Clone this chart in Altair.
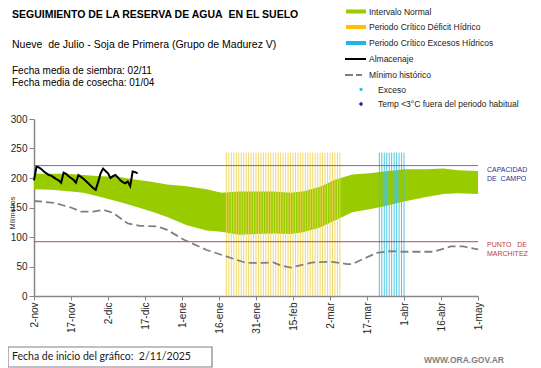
import altair as alt
import pandas as pd

# ---------------- data ----------------
TICK_DAYS = [0, 15, 30, 45, 60, 75, 90, 105, 120, 135, 150, 165, 180]
TICK_LABELS = ["2-nov", "17-nov", "2-dic", "17-dic", "1-ene", "16-ene", "31-ene",
               "15-feb", "2-mar", "17-mar", "1-abr", "16-abr", "1-may"]

# Intervalo normal (days since 2-nov)
BAND_DAY = [0, 7, 13, 20, 27, 34, 40, 47, 54, 62, 70, 76, 83, 90, 97, 104, 109,
            116, 122, 129, 136, 142, 150, 159, 166, 172, 180]
BAND_LO = [181, 180, 178, 175, 168, 160, 153, 144, 134, 120, 111, 109, 104, 105, 106,
           105, 108, 116, 128, 142, 147, 152, 160, 168, 173, 174, 173]
BAND_HI = [207, 207, 207, 205, 203, 202, 198, 194, 189, 186, 181, 175, 177, 177, 177,
           175, 177, 185, 197, 206, 208, 211, 215, 215, 216, 213, 212]

# Minimo historico
MIN_DAY = [0, 8, 15, 19, 24, 28, 32, 38, 43, 50, 54, 61, 70, 78, 86, 93, 97, 100,
           104, 113, 121, 127, 129, 134, 139, 144, 150, 162, 169, 174, 180]
MIN_VAL = [161, 158, 150, 143, 143, 146, 141, 123, 119, 118, 112, 95, 78, 67, 56, 56,
           57, 52, 48, 57, 58, 54, 54, 64, 73, 76, 75, 75, 84, 84, 79]

# Almacenaje (daily from 2-nov)
ALM_VAL = [196, 219, 218, 215, 211, 208, 205, 204, 201, 198, 196, 192, 209, 207, 203,
           200, 197, 192, 205, 202, 199, 195, 191, 187, 183, 180, 193, 208, 216, 212,
           208, 200, 203, 205, 201, 196, 193, 191, 194, 186, 211, 210, 208]
ALM_DAY = list(range(len(ALM_VAL)))

# Periodos criticos (days flagged)
DEFICIT_DAYS = list(range(78, 125))
EXCESO_DAYS = list(range(140, 151))
BAR_TOP = 243

CAPACIDAD = 221
MARCHITEZ = 92

# ---------------- chart ----------------
FONT = "Liberation Sans"
NB = "\u00a0"
W, H = 444, 177

xs = alt.Scale(domain=[0, 180], nice=False, zero=False)
ys = alt.Scale(domain=[0, 300], nice=False)

label_expr = "[" + ",".join("'%s'" % l for l in TICK_LABELS) + "][round(datum.value/15)]"
x_axis = alt.Axis(values=TICK_DAYS, labelExpr=label_expr, labelAngle=-90, title=None,
                  grid=False, labelFont=FONT, labelFontSize=10, labelColor="#262626",
                  tickSize=4, tickColor="#868686", domainColor="#868686",
                  domainWidth=1.5, labelPadding=2)
y_axis = alt.Axis(values=[0, 50, 100, 150, 200, 250, 300], title=None, grid=False,
                  labelFont=FONT, labelFontSize=10, labelColor="#262626",
                  tickSize=5, tickColor="#868686", domainColor="#868686",
                  domainWidth=1.5, labelPadding=2)


def X(f):
    return alt.X(f, scale=xs, axis=x_axis)


def Y(f):
    return alt.Y(f, scale=ys, axis=y_axis)


band_df = pd.DataFrame({"day": BAND_DAY, "lo": BAND_LO, "hi": BAND_HI})
band = alt.Chart(band_df).mark_area(color="#99CC00", opacity=1).encode(
    x=X("day:Q"), y=Y("lo:Q"), y2="hi:Q")

def_df = pd.DataFrame({"day": DEFICIT_DAYS, "b": 0, "t": BAR_TOP})
deficit = alt.Chart(def_df).mark_rule(color="#EFD55A", strokeWidth=1, opacity=0.9).encode(
    x=X("day:Q"), y=Y("b:Q"), y2="t:Q")

exc_df = pd.DataFrame({"day": EXCESO_DAYS, "b": 0, "t": BAR_TOP})
exceso = alt.Chart(exc_df).mark_rule(color="#3EC1DF", strokeWidth=1, opacity=0.9).encode(
    x=X("day:Q"), y=Y("b:Q"), y2="t:Q")

hl_df = pd.DataFrame({"v": [CAPACIDAD]})
cap = alt.Chart(hl_df).mark_rule(color="#5A78AE", strokeWidth=1).encode(y=Y("v:Q"))
mar_df = pd.DataFrame({"v": [MARCHITEZ]})
mar = alt.Chart(mar_df).mark_rule(color="#B5484A", strokeWidth=1).encode(y=Y("v:Q"))

min_df = pd.DataFrame({"day": MIN_DAY, "v": MIN_VAL})
minimo = alt.Chart(min_df).mark_line(color="#808080", strokeWidth=1.8,
                                     strokeDash=[8, 4]).encode(x=X("day:Q"), y=Y("v:Q"))

alm_df = pd.DataFrame({"day": ALM_DAY, "v": ALM_VAL})
alm = alt.Chart(alm_df).mark_line(color="#000000", strokeWidth=2).encode(
    x=X("day:Q"), y=Y("v:Q"))

one = pd.DataFrame({"a": [0]})


def txt(s, px, py, size, color="#000000", weight="normal", font=FONT, align="left",
        angle=0):
    return alt.Chart(one).mark_text(text=s, fontSize=size, color=color, fontWeight=weight,
                                    font=font, align=align, baseline="middle",
                                    angle=angle).encode(x=alt.value(px), y=alt.value(py))


def hbar(x1, x2, py, color, width, dash=None):
    kw = dict(color=color, strokeWidth=width)
    if dash:
        kw["strokeDash"] = dash
    return alt.Chart(one).mark_rule(**kw).encode(
        x=alt.value(x1), x2=alt.value(x2), y=alt.value(py))


def sym(px, py, shape, color, size):
    return alt.Chart(one).mark_point(shape=shape, filled=True, color=color, size=size,
                                     opacity=1).encode(x=alt.value(px), y=alt.value(py))


LEG_LABELS = ["Intervalo Normal", "Periodo Crítico Déficit Hídrico",
              "Periodo Crítico Excesos Hídricos", "Almacenaje", "Mínimo histórico",
              "Exceso", "Temp <3°C fuera del periodo habitual"]
leg_y = [-107.5, -92, -76, -60, -44, -29.5, -15]
leg_x = [335, 335, 335, 335, 335, 344, 344]

layers = [band, deficit, exceso, cap, mar, minimo, alm]

# texts
layers += [
    txt("SEGUIMIENTO DE LA RESERVA DE AGUA" + NB + NB + "EN EL SUELO", -22, -104, 10.5,
        weight="bold"),
    txt("Nueve" + NB + NB + "de Julio - Soja de Primera (Grupo de Madurez V)", -22, -74, 10.5),
    txt("Fecha media de siembra: 02/11", -22, -48, 10),
    txt("Fecha media de cosecha: 01/04", -22, -36, 10),
    txt("Milímetros", -21, 94, 7, angle=270, align="center", color="#262626"),
    txt("CAPACIDAD", 453, 51, 7, color="#2E3192"),
    txt("DE" + NB + NB + "CAMPO", 453, 60, 7, color="#2E3192"),
    txt("PUNTO" + NB + NB + NB + "DE", 453, 126, 7, color="#C0393B"),
    txt("MARCHITEZ", 453, 135, 7, color="#C0393B"),
    txt("WWW.ORA.GOV.AR", 390, 241, 8.5, color="#7F7F7F", weight="bold"),
]
for lab, lx, ly in zip(LEG_LABELS, leg_x, leg_y):
    layers.append(txt(lab, lx, ly, 8.5, color="#1a1a1a"))

# legend symbols
layers += [
    hbar(312, 332, -107.5, "#99CC00", 4),
    hbar(312, 332, -92, "#FFC000", 4),
    hbar(312, 332, -76, "#1FB5E6", 4),
    hbar(311, 332, -60, "#000000", 2),
    hbar(311, 328, -44, "#808080", 2, dash=[8, 3]),
    sym(327, -29.5, "square", "#2DB7E8", 8),
    sym(327, -15, "diamond", "#1F2E9E", 20),
]

# footer box
box = alt.Chart(one).mark_rect(fill="white", stroke="#8C7A8C", strokeWidth=1.2).encode(
    x=alt.value(-26), x2=alt.value(178), y=alt.value(228), y2=alt.value(248))
layers += [box, txt("Fecha de inicio del gráfico:" + NB + NB + "2/11/2025", -22, 238, 10.5,
                    font="Lato", color="#1a1a1a")]

chart = alt.layer(*layers).properties(
    width=W, height=H,
    padding={"left": 26, "top": 111, "right": 55, "bottom": 72},
    autosize=alt.AutoSizeParams(type="none"),
    background="white",
).configure_view(stroke=None)

chart.save("out.html", embed_options={"renderer": "svg", "actions": False})
